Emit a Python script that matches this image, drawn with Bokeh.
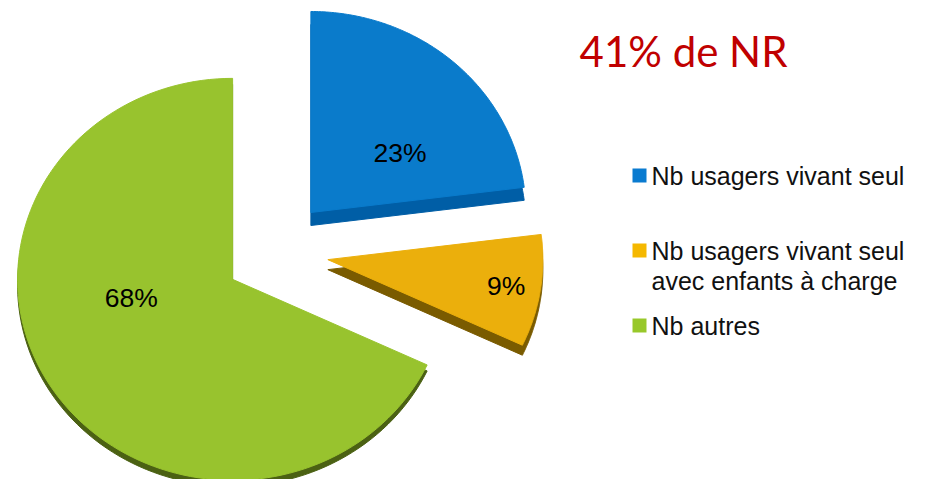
import numpy as np
from bokeh.plotting import figure
from bokeh.models import Range1d
from bokeh.core.properties import value
from bokeh.embed import file_html
from bokeh.resources import INLINE

# ---- data ----
categories = ["Nb usagers vivant seul",
              "Nb usagers vivant seul\navec enfants à charge",
              "Nb autres"]
shares = [23, 9, 68]
slice_labels = ["23%", "9%", "68%"]
title_text = "41% de NR"

# ---- styles ----
top_colors = ["#0A7BCB", "#EBAF0C", "#98C32E"]
side_colors = ["#005EA6", "#7A5B00", "#4B6113"]
legend_colors = ["#0A7BD0", "#F5B800", "#98C82A"]
depths = [13, 10, 6]
label_angle = [35.6, -9.0, 191.0]
label_frac = [0.51, 0.84, 0.48]

H = 495
def Y(sy):
    return H - sy

cx, cy = 276, Y(251)
rx, ry = 215, 201
explode = 52

p = figure(width=909, height=479, x_range=Range1d(0, 909), y_range=Range1d(16, 495),
           x_axis_type=None, y_axis_type=None, toolbar_location=None,
           output_backend="svg", min_border=0)
p.grid.visible = False
p.outline_line_color = None

total = float(sum(shares))
cum = 0.0
tops_x, tops_y, sides_x, sides_y = [], [], [], []
lx, ly = [], []
for i, s in enumerate(shares):
    a0 = 90 - cum / total * 360
    cum += s
    a1 = 90 - cum / total * 360
    mid = np.radians((a0 + a1) / 2)
    ox = cx + explode * np.cos(mid)
    oy = cy + explode * np.sin(mid)
    t = np.radians(np.linspace(a0, a1, 120))
    xs = np.concatenate([[ox], ox + rx * np.cos(t), [ox]])
    ys = np.concatenate([[oy], oy + ry * np.sin(t), [oy]])
    tops_x.append(list(xs)); tops_y.append(list(ys))
    sides_x.append(list(xs)); sides_y.append(list(ys - depths[i]))
    la = np.radians(label_angle[i])
    lx.append(ox + label_frac[i] * rx * np.cos(la))
    ly.append(oy + label_frac[i] * ry * np.sin(la))

p.patches(sides_x, sides_y, fill_color=side_colors, line_color=side_colors, line_width=1)
p.patches(tops_x, tops_y, fill_color=top_colors, line_color=top_colors, line_width=1)

p.text(lx, ly, text=slice_labels, text_font=value("Liberation Sans"),
       text_font_size=value("26.5px"), text_align="center", text_baseline="middle",
       text_color="#000000")

# title
p.text([683], [Y(50)], text=[title_text], text_font=value("Lato"),
       text_font_size=value("42px"), text_align="center", text_baseline="middle",
       text_color="#C00000")

# legend
row_y = [175, 250, 325]
sq_x, sq_y = [], []
tx, ty, tt = [], [], []
for i, cat in enumerate(categories):
    sq_x.append(639); sq_y.append(Y(row_y[i]))
    for j, line in enumerate(cat.split("\n")):
        tx.append(651); ty.append(Y(row_y[i] + 30 * j)); tt.append(line)
p.rect(sq_x, sq_y, width=14, height=14, fill_color=legend_colors, line_color=None)
p.text(tx, ty, text=tt, text_font=value("Liberation Sans"),
       text_font_size=value("25px"), text_align="left", text_baseline="middle",
       text_color="#111111")

open("out.html", "w").write(file_html(p, INLINE))
